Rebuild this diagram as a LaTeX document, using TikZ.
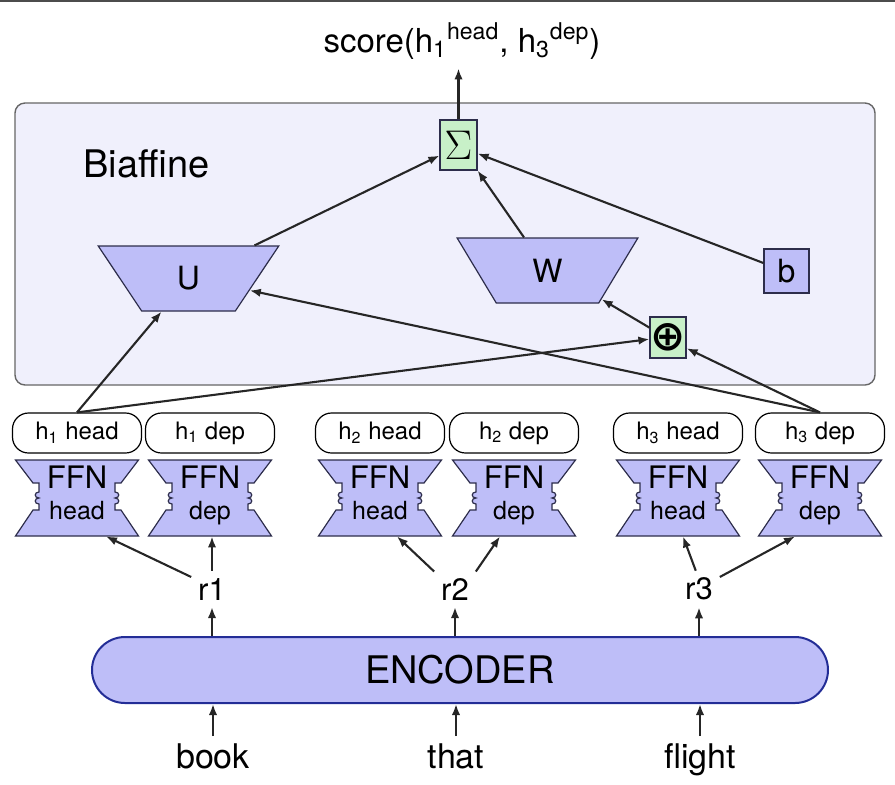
\documentclass[tikz,border=0pt]{standalone}
\usepackage[no-math]{fontspec}
\setmainfont{TeX Gyre Heros}
\newfontfamily\symfont{DejaVu Sans}
\usetikzlibrary{positioning,shapes.geometric,arrows.meta,calc}
\definecolor{lav}{RGB}{190,190,248}
\definecolor{lavbg}{RGB}{240,240,252}
\definecolor{sumgreen}{RGB}{200,240,200}
\definecolor{edge}{RGB}{45,45,75}
\definecolor{encblue}{RGB}{35,45,150}
\newcommand{\fs}[1]{\fontsize{#1}{#1}\selectfont}

\begin{document}
\begin{tikzpicture}[x=0.5pt,y=-0.5pt,
  con/.style={draw=black!85,line width=1.05pt,-{Latex[length=5.5pt,width=4.2pt]}},
  trap/.style={trapezium,shape border rotate=180,trapezium angle=65.6,
    trapezium stretches=true,minimum width=90.5pt,minimum height=32.5pt,
    fill=lav,draw=edge,line width=0.6pt,font=\fs{16}},
  hbox/.style={draw=black,fill=white,rounded corners=8pt,minimum width=64.5pt,
    minimum height=20pt,inner sep=0pt,line width=0.6pt,font=\fs{12}},
  ffn/.style={minimum width=61.5pt,minimum height=38pt,inner sep=0pt,
    align=center,font=\fs{15.5},text depth=5pt},
  ffnshape/.style={fill=lav,draw=edge,line width=0.6pt},
  sumbox/.style={fill=sumgreen,draw=edge,line width=0.6pt,inner sep=0pt},
  word/.style={font=\fs{17},anchor=base},
  rlbl/.style={font=\fs{15.5}}]
\useasboundingbox (0,0) rectangle (895,784);
\draw[black!70,line width=0.8pt] (0,0.8) -- (895,0.8);

% biaffine block
\draw[fill=lavbg,draw=black!60,line width=0.7pt,rounded corners=5pt]
  (15,103) rectangle (875,385);
\node[font=\fs{19},anchor=base west,inner sep=0pt] (biaf) at (83,177) {Biaffine};
\node[sumbox,minimum width=18.5pt,minimum height=25pt,font=\fs{20}] (sig) at (458.5,145) {$\Sigma$};
\node[sumbox,minimum width=18pt,minimum height=20.5pt,font=\fs{21}] (plus) at (668,337.5) {\symfont\bfseries ⊕};
\node[trap] (U) at (188.5,278.5) {U};
\node[trap] (W) at (547.5,270.5) {W};
\node[fill=lav,draw=edge,line width=0.6pt,minimum width=22.5pt,minimum height=22pt,
  inner sep=0pt,font=\fs{16}] (b) at (786.5,271) {b};
\node[font=\fs{16.5},anchor=base,inner sep=4.5pt] (score) at (462,52)
  {score(h\textsubscript{1}\textsuperscript{head}, h\textsubscript{3}\textsuperscript{dep})};

% FFN layers and outputs
\foreach \n/\x/\k/\role in {1h/77/1/head,1d/210/1/dep,2h/380/2/head,2d/514/2/dep,3h/678/3/head,3d/820/3/dep}{
  \draw[ffnshape,shift={(\x,498)}] (-61.5,-38) -- (61.5,-38) -- (44,-15) -- (38,-15) -- (38,-6)
    .. controls (43,-6) and (43,0) .. (38,0) .. controls (43,0) and (43,6) .. (38,6)
    -- (38,12) -- (44,12) -- (61.5,38) -- (-61.5,38) -- (-44,12) -- (-38,12) -- (-38,6)
    .. controls (-43,6) and (-43,0) .. (-38,0) .. controls (-43,0) and (-43,-6) .. (-38,-6)
    -- (-38,-15) -- (-44,-15) -- cycle;
  \node[ffn] (f\n) at (\x,498) {FFN\\{\fs{12.5}\role}};
  \node[hbox] (h\n) at (\x,433) {h\textsubscript{\k} \role};
}

% encoder
\node[fill=lav,draw=encblue,line width=1pt,rounded corners=16.5pt,minimum width=368pt,
  minimum height=33pt,font=\fs{19}] (enc) at (460,670) {ENCODER};
\node[rlbl] (r1) at (212,589) {r1};
\node[rlbl] (r2) at (455,589) {r2};
\node[rlbl] (r3) at (699,589) {r3};
\node[word] (book) at (213,768) {book};
\node[word] (that) at (456,768) {that};
\node[word] (flight) at (700,768) {flight};

\foreach \r/\w in {r1/book,r2/that,r3/flight}{
  \draw[con] (\r |- enc.north) -- (\r);
  \draw[con] (\w) -- (\w |- enc.south);
}
\draw[con] (r1.150) -- ([xshift=14.5pt]f1h.south);
\draw[con] (r1.north) -- (r1.north |- f1d.south);
\draw[con] (r2.140) -- ([xshift=8.5pt]f2h.south);
\draw[con] (r2.40) -- ([xshift=-7pt]f2d.south);
\draw[con] (r3.100) -- ([xshift=2.5pt]f3h.south);
\draw[con] (r3.30) -- ([xshift=-12.5pt]f3d.south);

\draw[con] (h1h.north) -- ([xshift=-13.5pt]U.south);
\draw[con] (h1h.north) -- (plus.185);
\draw[con] (h3d.north) -- (U.-11);
\draw[con] (h3d.north) -- (plus.-30);
\draw[con] (plus.152) -- (W.-28.5);
\draw[con] ([xshift=33pt]U.north) -- (sig.209);
\draw[con] ([xshift=-11.75pt]W.north) -- (sig.south east);
\draw[con] ([yshift=4pt]b.west) -- (sig.-24);
\draw[con] (sig) -- (sig |- score.south);
\end{tikzpicture}
\end{document}
